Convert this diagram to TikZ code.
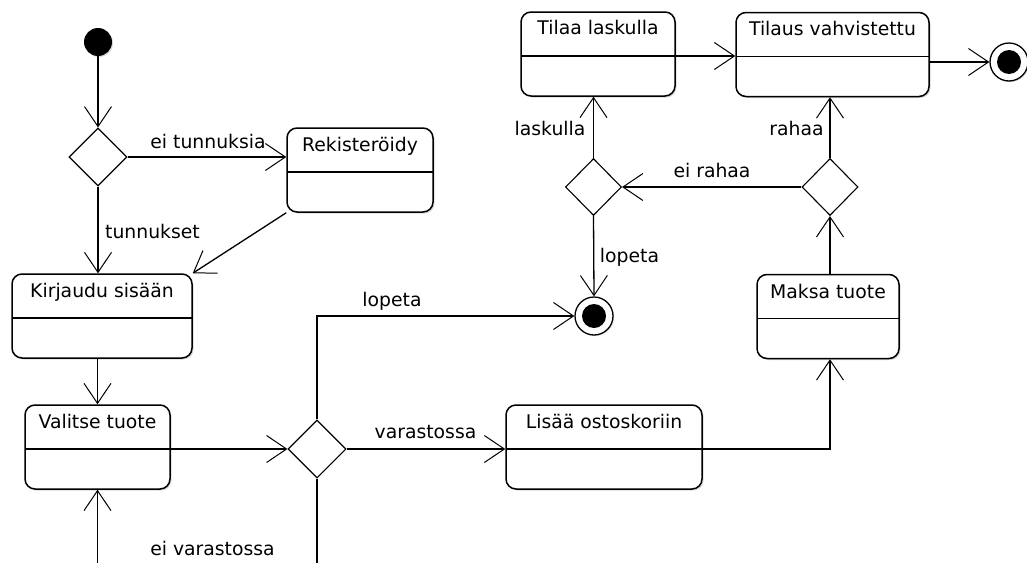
\documentclass[tikz,border=0pt]{standalone}
\usepackage{fontspec}
\setmainfont{DejaVu Sans}
\usetikzlibrary{arrows.meta,shapes.geometric,shadows}

\tikzset{
  every picture/.style={x=1pt,y=-1pt},
  txt/.style={font=\fontsize{18.8pt}{22pt}\selectfont, inner sep=0pt},
  act/.style={draw, line width=1.5pt, rounded corners=10pt, fill=white,
    minimum height=84pt, inner sep=0pt,
    drop shadow={shadow xshift=1.5pt, shadow yshift=-1.5pt, opacity=0.3, fill=gray},
    path picture={\draw[line width=1.6pt]
      ([yshift=-2pt]path picture bounding box.west) --
      ([yshift=-2pt]path picture bounding box.east);}},
  title/.style={txt, anchor=base},
  lbl/.style={txt, anchor=base},
  decision/.style={draw, diamond, line width=1.1pt, fill=white, inner sep=0pt,
    minimum width=58pt, minimum height=58pt},
  initial/.style={circle, fill=black, inner sep=0pt, minimum size=28pt,
    drop shadow={shadow xshift=1pt, shadow yshift=-1pt, opacity=0.3, fill=gray}},
  final/.style={circle, draw, line width=1.3pt, fill=white, inner sep=0pt,
    minimum size=38pt,
    drop shadow={shadow xshift=1pt, shadow yshift=-1pt, opacity=0.3, fill=gray},
    path picture={\fill[black] (path picture bounding box.center) circle (12pt);}},
  flow/.style={line width=1.3pt,
    -{Straight Barb[length=20pt, width=27pt, line width=1pt]}},
  plain/.style={line width=1.3pt}
}

\begin{document}
\begin{tikzpicture}
\useasboundingbox (0,0) rectangle (1027,562);
\clip (0,0) rectangle (1027,562);
\fill[white] (0,0) rectangle (1027,562);

% activities
\node[act, minimum width=146pt] (reg)    at (360,170)   {};
\node[act, minimum width=180pt] (login)  at (102,316)   {};
\node[act, minimum width=145pt] (choose) at (97.5,447)  {};
\node[act, minimum width=196pt] (cart)   at (604,447)   {};
\node[act, minimum width=142pt] (pay)    at (828,316.5) {};
\node[act, minimum width=154pt] (order)  at (598,54)    {};
\node[act, minimum width=193pt] (conf)   at (832.5,54.5){};

\node[title] at ([yshift=-24.5pt]reg.north)    {Rekisteröidy};
\node[title] at ([yshift=-24.5pt]login.north)  {Kirjaudu sisään};
\node[title] at ([yshift=-24.5pt]choose.north) {Valitse tuote};
\node[title] at ([yshift=-24.5pt]cart.north)   {Lisää ostoskoriin};
\node[title] at ([yshift=-24.5pt]pay.north)    {Maksa tuote};
\node[title] at ([yshift=-23.5pt]order.north)  {Tilaa laskulla};
\node[title] at ([yshift=-23.5pt]conf.north)   {Tilaus vahvistettu};

% decisions
\node[decision] (d1) at (98,157)    {};
\node[decision] (d2) at (317,449)   {};
\node[decision, minimum width=56pt, minimum height=57pt] (d3) at (593.5,187) {};
\node[decision, minimum width=56pt, minimum height=57pt] (d4) at (830,187)   {};

% start and end points
\node[initial] (start) at (98,42)  {};
\node[final]   (end1)  at (594,316) {};
\node[final]   (end2)  at (1009,62) {};

% flows
\draw[flow] (start) -- (d1);
\draw[flow] (d1.east) -- (d1.east -| reg.west);
\draw[flow] (d1.south) -- (d1.south |- login.north);
\draw[flow] (reg.south west) -- (login.north east);
\draw[flow] (login.south -| choose.north) -- (choose.north);
\draw[flow] (choose.east |- d2) -- (d2.west);
\draw[flow] (d2.north) |- (end1.west);
\draw[flow] (d2.east) -- (d2.east -| cart.west);
\draw[flow] (d2.south) -- ++(0,140) -| (choose.south);
\draw[flow] (cart.east |- d2) -| (d4.south |- pay.south);
\draw[flow] (d4.south |- pay.north) -- (d4.south);
\draw[flow] (d4.north) -- (d4.north |- conf.south);
\draw[flow] (d4.west) -- (d3.east);
\draw[flow] (d3.north) -- (d3.north |- order.south);
\draw[flow] (d3.south) -- (end1.north);
\draw[flow] ([yshift=-2pt]order.east) -- ([yshift=-2pt]order.east -| conf.west);
\draw[flow] (end2.west -| conf.east) -- (end2.west);

% guard labels
\node[lbl] (g1) at (208,148)   {ei tunnuksia};
\node[lbl] (g2) at (152.5,238) {tunnukset};
\node[lbl] (g3) at (212.5,555) {ei varastossa};
\node[lbl] (g4) at (392,306)   {lopeta};
\node[lbl] (g5) at (425.5,438) {varastossa};
\node[lbl] (g6) at (550,135)   {laskulla};
\node[lbl] (g7) at (796.5,135) {rahaa};
\node[lbl] (g8) at (712,177)   {ei rahaa};
\node[lbl] (g9) at (629.5,262) {lopeta};
\end{tikzpicture}
\end{document}
